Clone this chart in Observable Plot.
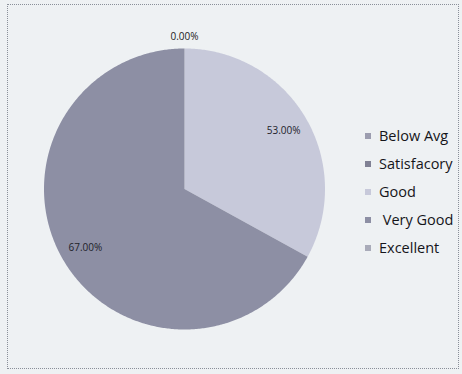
<!DOCTYPE html>
<html>
<head>
<meta charset="utf-8">
<script src="https://cdn.jsdelivr.net/npm/d3@7"></script>
<script src="https://cdn.jsdelivr.net/npm/@observablehq/plot@0.6"></script>
<style>
  html, body { margin: 0; padding: 0; background: #eef1f3; }
  #wrap { position: relative; width: 462px; height: 374px; overflow: hidden; background: #eef1f3; }
  #frame { position: absolute; left: 7px; top: 4px; width: 452px; height: 365px; border: 1px dotted #8a8f99; box-sizing: border-box; }
  #chart { position: absolute; left: 0; top: 0; }
  #legend { position: absolute; left: 365px; top: 122px; font-family: "Open Sans", sans-serif; font-size: 14.5px; color: #15151a; }
  #legend .row { height: 28px; line-height: 22px; display: flex; align-items: center; white-space: pre; }
  #legend .sw { width: 6px; height: 6px; margin-right: 8px; flex: none; }
</style>
</head>
<body>
<div id="wrap">
  <div id="frame"></div>
  <div id="chart"></div>
  <div id="legend"></div>
</div>
<script>
const categories = ["Below Avg", "Satisfacory", "Good", "Very Good", "Excellent"];
const values = [0, 0, 33, 67, 0];
const labels = ["0.00%", "0.00%", "53.00%", "67.00%", "0.00%"];
const legendLabels = ["Below Avg", "Satisfacory", "Good", " Very Good", "Excellent"];
const colors = ["#9c9daf", "#808194", "#c7c9da", "#8d8fa4", "#a9abb9"];

const pie = d3.pie().sort(null).startAngle(0).endAngle(2 * Math.PI).value(d => d)(values);

// polygon points of each slice in unit data space
const slicePts = [];
pie.forEach((p, i) => {
  if (values[i] === 0) return;
  slicePts.push({cat: categories[i], x: 0, y: 0});
  const n = Math.max(2, Math.ceil((p.endAngle - p.startAngle) / 0.01));
  for (let k = 0; k <= n; k++) {
    const a = p.startAngle + (p.endAngle - p.startAngle) * k / n;
    slicePts.push({cat: categories[i], x: Math.sin(a), y: Math.cos(a)});
  }
});

const labelPts = pie.map((p, i) => {
  const a = (p.startAngle + p.endAngle) / 2;
  const r = values[i] === 0 ? 1.08 : 0.82;
  return {cat: categories[i], text: labels[i], x: Math.sin(a) * r, y: Math.cos(a) * r, zero: values[i] === 0};
});
// zero-valued slices share one spot: show the label once
const zeroLabels = labelPts.filter(d => d.zero).slice(0, 1);
const innerLabels = labelPts.filter(d => !d.zero);

const color = {domain: categories, range: colors};

const plot = Plot.plot({
  width: 462,
  height: 374,
  marginLeft: 43.5,
  marginRight: 137.5,
  marginTop: 48,
  marginBottom: 45,
  x: {domain: [-1, 1], axis: null},
  y: {domain: [-1, 1], axis: null},
  color,
  style: {background: "transparent", overflow: "visible"},
  marks: [
    Plot.line(slicePts, {x: "x", y: "y", z: "cat", fill: "cat", stroke: "none", curve: "linear-closed"}),
    Plot.text(zeroLabels, {x: "x", y: "y", text: "text", fill: "#222", fontSize: 10, fontFamily: "Open Sans, sans-serif"}),
    Plot.text(innerLabels, {x: "x", y: "y", text: "text", fill: "#22222a", fontSize: 10, fontFamily: "Open Sans, sans-serif"})
  ]
});
document.getElementById("chart").appendChild(plot);

const leg = document.getElementById("legend");
categories.forEach((c, i) => {
  const row = document.createElement("div");
  row.className = "row";
  const sw = document.createElement("span");
  sw.className = "sw";
  sw.style.background = colors[i];
  const t = document.createElement("span");
  t.textContent = legendLabels[i];
  row.appendChild(sw);
  row.appendChild(t);
  leg.appendChild(row);
});
</script>
</body>
</html>
